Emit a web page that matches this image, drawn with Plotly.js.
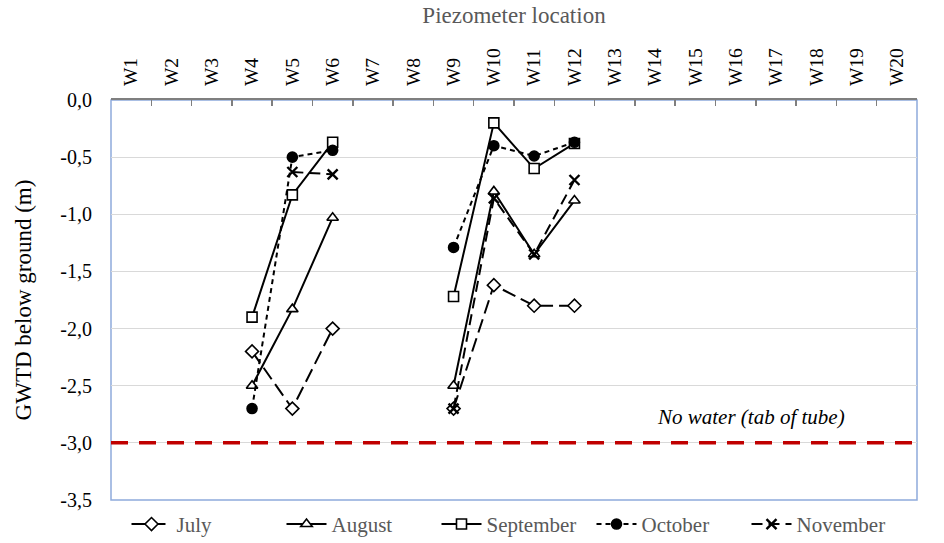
<!DOCTYPE html>
<html>
<head>
<meta charset="utf-8">
<script src="https://cdn.plot.ly/plotly-3.0.1.min.js"></script>
<style>html,body{margin:0;padding:0;background:#fff;}#chart{width:944px;height:543px;}</style>
</head>
<body>
<div id="chart"></div>
<script>
const wells = ['W1','W2','W3','W4','W5','W6','W7','W8','W9','W10','W11','W12','W13','W14','W15','W16','W17','W18','W19','W20'];
const july      = [null,null,null,-2.20,-2.70,-2.00,null,null,-2.70,-1.62,-1.80,-1.80,null,null,null,null,null,null,null,null];
const august    = [null,null,null,-2.50,-1.83,-1.03,null,null,-2.50,-0.80,-1.35,-0.88,null,null,null,null,null,null,null,null];
const september = [null,null,null,-1.90,-0.83,-0.37,null,null,-1.72,-0.20,-0.60,-0.38,null,null,null,null,null,null,null,null];
const october   = [null,null,null,-2.70,-0.50,-0.44,null,null,-1.29,-0.40,-0.49,-0.37,null,null,null,null,null,null,null,null];
const november  = [null,null,null,null,-0.63,-0.65,null,null,-2.70,-0.86,-1.35,-0.70,null,null,null,null,null,null,null,null];
const seriesNames = ['July','August','September','October','November'];
const noWaterLevel = -3.0;
const noWaterLabel = 'No water (tab of tube)';
const yTickVals = [0,-0.5,-1.0,-1.5,-2.0,-2.5,-3.0,-3.5];
const yTickText = ['0,0','-0,5','-1,0','-1,5','-2,0','-2,5','-3,0','-3,5'];

const serif = 'Liberation Serif';
function tr(name, ys, dash, symbol, fill, lw) {
  return {
    type: 'scatter', mode: 'lines+markers', name: name,
    x: wells, y: ys, connectgaps: false,
    line: {color: '#000', width: 2, dash: dash},
    marker: {symbol: symbol, size: 10, color: fill, line: {color: '#000', width: lw}}
  };
}
const traces = [
  tr(seriesNames[0], july, '14px,6px', 'diamond', '#fff', 1.6),
  tr(seriesNames[1], august, 'solid', 'triangle-up', '#fff', 1.6),
  tr(seriesNames[2], september, 'solid', 'square', '#fff', 1.6),
  tr(seriesNames[3], october, '5px,4px', 'circle', '#000', 1.6),
  tr(seriesNames[4], november, '11px,6px', 'x-thin', '#000', 2.4)
];

const layout = {
  width: 944, height: 543,
  margin: {l: 111, r: 27, t: 100, b: 43},
  paper_bgcolor: '#fff', plot_bgcolor: '#fff',
  font: {family: serif, color: '#000', size: 19},
  showlegend: true,
  legend: {orientation: 'h', x: 0.5, xanchor: 'center', yref: 'container', y: 0.072, yanchor: 'top',
           font: {family: serif, size: 21, color: '#595959'}, itemwidth: 40,
           entrywidth: 100, entrywidthmode: 'pixels'},
  xaxis: {
    type: 'category', categoryarray: wells, categoryorder: 'array',
    range: [-0.5, 19.5], side: 'top', tickangle: -90,
    showline: true, linecolor: '#7f7f7f', linewidth: 2,
    ticks: 'inside', tickson: 'boundaries', ticklen: 6, tickcolor: '#7f7f7f', tickwidth: 1.5,
    showgrid: false, zeroline: false,
    tickfont: {family: serif, size: 19.5, color: '#000'}, ticklabelstandoff: 8,
    title: {text: 'Piezometer location', font: {family: serif, size: 23, color: '#595959'}, standoff: 18},
    automargin: false, fixedrange: true
  },
  yaxis: {
    range: [-3.5, 0], tickvals: yTickVals, ticktext: yTickText,
    showgrid: true, gridcolor: '#d9d9d9', gridwidth: 1, zeroline: false,
    showline: false, ticks: '',
    tickfont: {family: serif, size: 20, color: '#000'}, ticklabelstandoff: 18,
    title: {text: 'GWTD below ground (m)', font: {family: serif, size: 23, color: '#000'}, standoff: 22},
    automargin: false, fixedrange: true
  },
  shapes: [
    {type: 'rect', xref: 'paper', yref: 'paper', x0: 0, x1: 1, y0: 0, y1: 1,
     line: {color: '#8faadc', width: 1.5}, fillcolor: 'rgba(0,0,0,0)', layer: 'below'},
    {type: 'line', xref: 'paper', yref: 'y', x0: 0, x1: 1, y0: noWaterLevel, y1: noWaterLevel,
     line: {color: '#c00000', width: 3.5, dash: '17px,11px'}, layer: 'above'}
  ],
  annotations: [
    {xref: 'paper', yref: 'y', x: 0.794, y: -2.77, xanchor: 'center', yanchor: 'middle',
     text: noWaterLabel, showarrow: false,
     font: {family: serif, size: 21, color: '#000', style: 'italic'}}
  ]
};
Plotly.newPlot('chart', traces, layout, {displayModeBar: false, staticPlot: true});
</script>
</body>
</html>
